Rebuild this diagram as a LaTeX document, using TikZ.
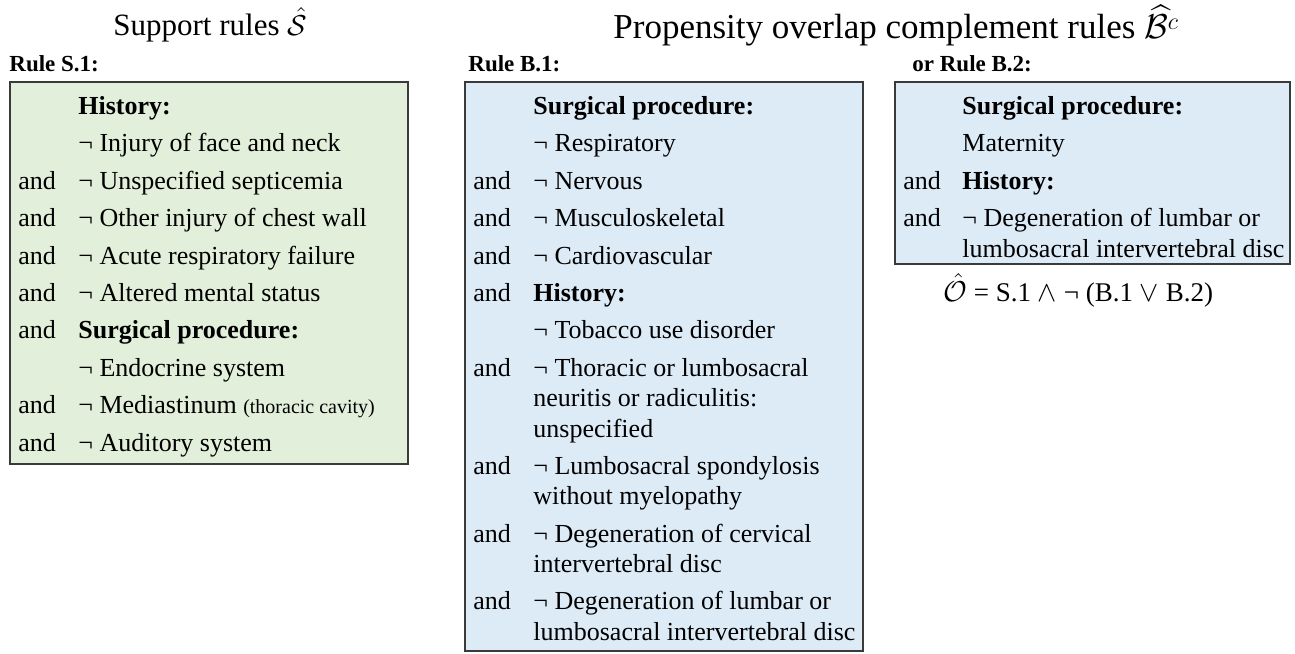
\documentclass[tikz,border=0pt]{standalone}
\usepackage{amsmath,amssymb}
\usepackage{xcolor}
\usepackage{fontspec}
\setmainfont{Liberation Serif}
\usepackage{tikz}
\usetikzlibrary{positioning,calc}

\definecolor{suppgreen}{HTML}{E2EFDA}
\definecolor{compblue}{HTML}{DDEBF7}
\definecolor{boxline}{HTML}{3A3A3A}

% several lines of one term, first line on the node's baseline
\newcommand{\termlines}[1]{\begin{tabular}[t]{@{}l@{}}#1\end{tabular}}

\begin{document}
\begin{tikzpicture}[x=0.5pt, y=-0.5pt,
    title/.style={anchor=base west, inner sep=0pt, font=\fontsize{15.5}{18}\selectfont},
    rulelabel/.style={anchor=base west, inner sep=0pt, font=\fontsize{11.5}{13}\selectfont\bfseries},
    rulebox/.style={draw=boxline, line width=1pt},
    conj/.style={anchor=base west, inner sep=0pt, font=\fontsize{13}{15.2}\selectfont},
    term/.style={anchor=base west, inner sep=0pt, font=\fontsize{13}{15.2}\selectfont},
    head/.style={term, font=\fontsize{13}{15.2}\selectfont\bfseries}]
    \useasboundingbox (0,0) rectangle (1295,653);

    % titles and rule labels
    \node[title] (supptitle) at (113, 35) {Support rules $\hat{\mathcal{S}}$};
    \node[title, font=\fontsize{17.5}{20}\selectfont] (comptitle) at (613, 39) {Propensity overlap complement rules $\widehat{\mathcal{B}^{c}}$};
    \node[rulelabel] (ruleS1) at (9, 71) {Rule S.1:};
    \node[rulelabel] (ruleB1) at (468, 71) {Rule B.1:};
    \node[rulelabel] (ruleB2) at (912, 71) {or Rule B.2:};

    % boxes
    \draw[rulebox, fill=suppgreen] (10,82) rectangle (408,464);
    \draw[rulebox, fill=compblue] (465,82) rectangle (863,651);
    \draw[rulebox, fill=compblue] (895,82) rectangle (1290,264);

    % Rule S.1
    \foreach \k in {2,3,4,5,6,8,9}
        \node[conj] (sand\k) at (18, {114.5+37.4*\k}) {and};
    \node[head] (s0) at (78, 114.5) {History:};
    \node[term] (s1) at (78, 151.9) {¬ Injury of face and neck};
    \node[term] (s2) at (78, 189.3) {¬ Unspecified septicemia};
    \node[term] (s3) at (78, 226.7) {¬ Other injury of chest wall};
    \node[term] (s4) at (78, 264.1) {¬ Acute respiratory failure};
    \node[term] (s5) at (78, 301.5) {¬ Altered mental status};
    \node[head] (s6) at (78, 338.9) {Surgical procedure:};
    \node[term] (s7) at (78, 376.3) {¬ Endocrine system};
    \node[term] (s8) at (78, 413.7) {¬ Mediastinum {\fontsize{10}{12}\selectfont(thoracic cavity)}};
    \node[term] (s9) at (78, 451.1) {¬ Auditory system};

    % Rule B.1
    \foreach \k in {2,3,4,5,7}
        \node[conj] (band\k) at (473, {114.5+37.4*\k}) {and};
    \node[conj] (band8) at (473, 474.3) {and};
    \node[conj] (band9) at (473, 542.0) {and};
    \node[conj] (band10) at (473, 609.7) {and};
    \node[head] (b0) at (533, 114.5) {Surgical procedure:};
    \node[term] (b1) at (533, 151.9) {¬ Respiratory};
    \node[term] (b2) at (533, 189.3) {¬ Nervous};
    \node[term] (b3) at (533, 226.7) {¬ Musculoskeletal};
    \node[term] (b4) at (533, 264.1) {¬ Cardiovascular};
    \node[head] (b5) at (533, 301.5) {History:};
    \node[term] (b6) at (533, 338.9) {¬ Tobacco use disorder};
    \node[term] (b7) at (533, 376.3) {\termlines{¬ Thoracic or lumbosacral\\neuritis or radiculitis:\\unspecified}};
    \node[term] (b8) at (533, 474.3) {\termlines{¬ Lumbosacral spondylosis\\without myelopathy}};
    \node[term] (b9) at (533, 542.0) {\termlines{¬ Degeneration of cervical\\intervertebral disc}};
    \node[term] (b10) at (533, 609.7) {\termlines{¬ Degeneration of lumbar or\\lumbosacral intervertebral disc}};

    % Rule B.2
    \node[conj] (cand2) at (903, 189.3) {and};
    \node[conj] (cand3) at (903, 226.7) {and};
    \node[head] (c0) at (962, 114.5) {Surgical procedure:};
    \node[term] (c1) at (962, 151.9) {Maternity};
    \node[head] (c2) at (962, 189.3) {History:};
    \node[term] (c3) at (962, 226.7) {\termlines{¬ Degeneration of lumbar or\\lumbosacral intervertebral disc}};

    % overlap rule
    \node[term, font=\fontsize{13.5}{16}\selectfont] (overlap) at (943, 301) {$\hat{\mathcal{O}}$ = S.1 $\land$ ¬ (B.1 $\lor$ B.2)};
\end{tikzpicture}
\end{document}
